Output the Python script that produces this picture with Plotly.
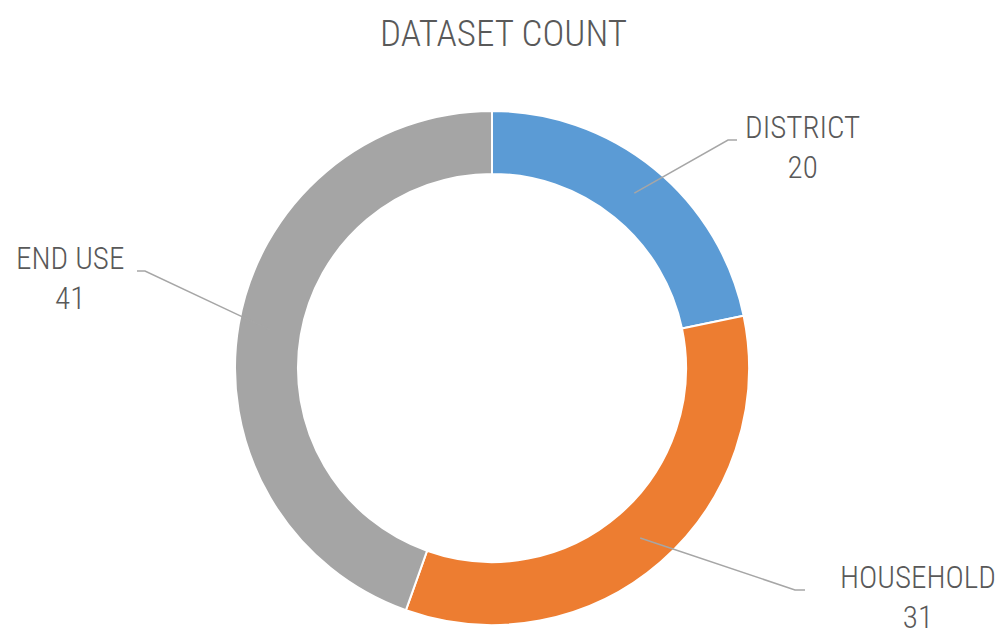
import math
import plotly.graph_objects as go

# ---- data ----
categories = ["DISTRICT", "HOUSEHOLD", "END USE"]
values = [20, 31, 41]
colors = ["#5B9BD5", "#ED7D31", "#A5A5A5"]
title_text = "DATASET COUNT"

# ---- layout constants (pixels) ----
W, H = 1006, 637
CX, CY, R_OUT = 492, 368, 257
HOLE = 0.755
R_LEAD = R_OUT * (1 + HOLE) / 2  # leader start: middle of ring
FONT = "Roboto Condensed, Liberation Sans Narrow, DejaVu Sans Condensed, Arial Narrow, sans-serif"
TXT = "#595959"

# label placements (pixels): text block center, elbow, line end near text
label_layout = {
    "DISTRICT": dict(center=(802, 147), elbow=(728, 140), end=(737, 140)),
    "HOUSEHOLD": dict(center=(918, 597), elbow=(795, 590), end=(805, 590)),
    "END USE": dict(center=(70, 278), elbow=(145, 271), end=(137, 271)),
}

def px(x):
    return x / W

def py(y):
    return 1 - y / H

fig = go.Figure(go.Pie(
    labels=categories,
    values=values,
    hole=HOLE,
    sort=False,
    direction="clockwise",
    rotation=0,
    marker=dict(colors=colors, line=dict(color="white", width=2)),
    textinfo="none",
    hoverinfo="label+value",
    showlegend=False,
    domain=dict(x=[px(CX - R_OUT), px(CX + R_OUT)], y=[py(CY + R_OUT), py(CY - R_OUT)]),
))

total = sum(values)
cum = 0
shapes = []
annotations = []
for cat, v in zip(categories, values):
    mid = (cum + v / 2) / total * 2 * math.pi
    cum += v
    sx = CX + R_LEAD * math.sin(mid)
    sy = CY - R_LEAD * math.cos(mid)
    L = label_layout[cat]
    ex, ey = L["elbow"]
    tx, ty = L["end"]
    shapes.append(dict(
        type="path", xref="paper", yref="paper",
        path=f"M {px(sx)} {py(sy)} L {px(ex)} {py(ey)} L {px(tx)} {py(ty)}",
        line=dict(color="#A6A6A6", width=1.5),
    ))
    annotations.append(dict(
        x=px(L["center"][0]), y=py(L["center"][1]), xref="paper", yref="paper",
        text=f"{cat}<br>{v}", showarrow=False, xanchor="center", yanchor="middle",
        align="center",
        font=dict(family=FONT, size=31, color=TXT, weight=300),
    ))

annotations.append(dict(
    x=px(503), y=py(33), xref="paper", yref="paper",
    text=title_text, showarrow=False, xanchor="center", yanchor="middle",
    font=dict(family=FONT, size=37, color=TXT, weight=300),
))

fig.update_layout(
    width=W, height=H,
    margin=dict(l=0, r=0, t=0, b=0),
    paper_bgcolor="white", plot_bgcolor="white",
    shapes=shapes, annotations=annotations,
)

fig.write_html("out.html", config={"displayModeBar": False},
               post_script="document.body.style.margin='0';")
